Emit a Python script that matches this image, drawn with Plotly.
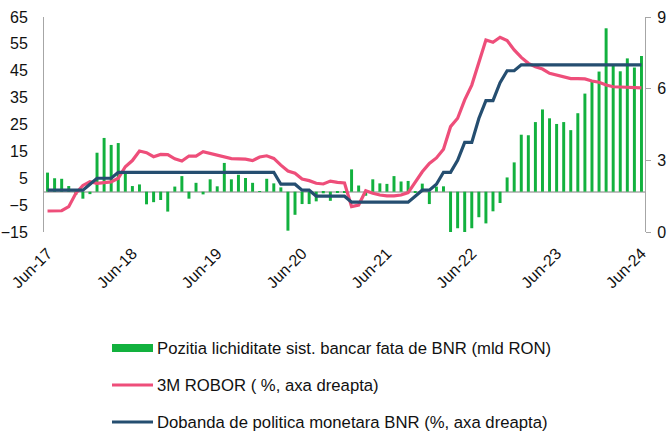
import pandas as pd
import plotly.graph_objects as go

# Categories: monthly, Jun-17 .. Jun-24
months = list(pd.date_range("2017-06-01", periods=85, freq="MS").strftime("%b-%y"))
tick_labels = ["Jun-17", "Jun-18", "Jun-19", "Jun-20", "Jun-21", "Jun-22", "Jun-23", "Jun-24"]

# Pozitia lichiditate sist. bancar fata de BNR (mld RON) - left axis
liquidity = [
    7.1, 5.0, 4.8, 2.1, -1.2, -2.6, -0.9, 14.5, 20.0, 17.4, 18.1, 7.0,
    2.1, 2.7, -4.7, -3.9, -3.1, -7.4, 1.9, 5.8, -2.6, 3.3, -1.0, 4.6,
    2.0, 10.7, 4.6, 6.3, 5.1, 3.3, 0.2, 4.8, 3.1, 1.6, -14.5, -8.6,
    -4.6, -4.6, -3.6, -0.6, -3.4, -0.5, -0.5, 8.3, 2.3, -1.5, 4.6, 3.1,
    2.9, 5.8, 3.8, 4.0, -0.5, 3.0, -4.6, 1.9, 2.0, -15.4, -13.6, -15.4,
    -13.6, -9.5, -11.8, -7.3, -4.2, 5.3, 10.9, 21.2, 21.0, 25.9, 30.6, 27.3,
    25.2, 25.9, 22.9, 29.2, 36.5, 40.9, 44.7, 60.8, 47.1, 44.8, 49.6, 46.2,
    50.5,
]

# 3M ROBOR (%, right axis)
robor = [
    0.88, 0.88, 0.89, 1.06, 1.62, 1.95, 2.11, 2.04, 2.08, 2.10, 2.25, 2.73,
    2.99, 3.39, 3.32, 3.15, 3.25, 3.24, 3.06, 2.97, 3.18, 3.18, 3.36, 3.29,
    3.22, 3.14, 3.07, 3.06, 3.05, 2.99, 3.14, 3.19, 3.08, 2.80, 2.55, 2.46,
    2.22, 2.15, 2.04, 2.01, 2.13, 2.08, 2.05, 1.06, 1.13, 1.73, 1.62, 1.55,
    1.51, 1.51, 1.55, 1.65, 2.11, 2.52, 2.87, 3.10, 3.46, 4.41, 4.76, 5.53,
    6.15, 7.06, 8.04, 7.94, 8.15, 8.01, 7.62, 7.31, 7.06, 6.92, 6.82, 6.64,
    6.57, 6.50, 6.42, 6.42, 6.41, 6.32, 6.27, 6.15, 6.08, 6.07, 6.06, 6.05,
    6.03,
]

# Dobanda de politica monetara BNR (%, right axis)
policy = [
    1.75, 1.75, 1.75, 1.75, 1.75, 1.75, 2.00, 2.25, 2.25, 2.25, 2.50, 2.50,
    2.50, 2.50, 2.50, 2.50, 2.50, 2.50, 2.50, 2.50, 2.50, 2.50, 2.50, 2.50,
    2.50, 2.50, 2.50, 2.50, 2.50, 2.50, 2.50, 2.50, 2.50, 2.00, 2.00, 2.00,
    1.75, 1.75, 1.50, 1.50, 1.50, 1.50, 1.50, 1.25, 1.25, 1.25, 1.25, 1.25,
    1.25, 1.25, 1.25, 1.25, 1.50, 1.75, 1.75, 2.00, 2.50, 2.50, 3.00, 3.75,
    3.75, 4.75, 5.50, 5.50, 6.25, 6.75, 6.75, 7.00, 7.00, 7.00, 7.00, 7.00,
    7.00, 7.00, 7.00, 7.00, 7.00, 7.00, 7.00, 7.00, 7.00, 7.00, 7.00, 7.00,
    7.00,
]

series_names = [
    "Pozitia lichiditate sist. bancar fata de BNR (mld RON)",
    "3M ROBOR ( %, axa dreapta)",
    "Dobanda de politica monetara BNR (%, axa dreapta)",
]

GREEN = "#12B13E"
PINK = "#EE4E7A"
NAVY = "#254E70"
AXIS_GRAY = "#A6A6A6"
FONT = "Liberation Sans, Arial, sans-serif"
FS = 16
LEG_FS = 16.7

fig = go.Figure()
fig.add_trace(go.Bar(x=months, y=liquidity, marker_color=GREEN, marker_line_width=0,
                     name=series_names[0], showlegend=False, yaxis="y"))
fig.add_trace(go.Scatter(x=months, y=robor, mode="lines", line=dict(color=PINK, width=3.2),
                         name=series_names[1], showlegend=False, yaxis="y2"))
fig.add_trace(go.Scatter(x=months, y=policy, mode="lines", line=dict(color=NAVY, width=3.2),
                         name=series_names[2], showlegend=False, yaxis="y2"))

L, R, T, B = 44, 23, 17, 203
W, H = 668, 435
pw, ph = W - L - R, H - T - B


def px_x(px):
    return (px - L) / pw


def px_y(py):
    return (H - B - py) / ph


# Manual legend (symbols + text)
legend_rows = [348, 385, 422]
shapes = []
annotations = []
for i, (yy, name) in enumerate(zip(legend_rows, series_names)):
    if i == 0:
        shapes.append(dict(type="rect", xref="paper", yref="paper",
                           x0=px_x(112), x1=px_x(153), y0=px_y(yy + 4), y1=px_y(yy - 4),
                           fillcolor=GREEN, line=dict(width=0)))
    else:
        shapes.append(dict(type="line", xref="paper", yref="paper",
                           x0=px_x(112), x1=px_x(153), y0=px_y(yy), y1=px_y(yy),
                           line=dict(color=PINK if i == 1 else NAVY, width=3)))
    annotations.append(dict(xref="paper", yref="paper", x=px_x(155), y=px_y(yy),
                            xanchor="left", yanchor="middle", text=name, showarrow=False,
                            font=dict(size=LEG_FS, color="#111111", family=FONT)))

fig.update_layout(
    width=W, height=H,
    margin=dict(l=L, r=R, t=T, b=B, autoexpand=False),
    paper_bgcolor="white", plot_bgcolor="white",
    font=dict(family=FONT, size=FS, color="#111111"),
    bargap=0.58,
    showlegend=False,
    shapes=shapes,
    annotations=annotations,
    xaxis=dict(
        type="category", automargin=False,
        tickmode="array", tickvals=tick_labels, ticktext=tick_labels,
        tickangle=-45, showgrid=False, showline=False, zeroline=False,
        ticks="", ticklabelstandoff=8,
        tickfont=dict(size=FS),
        range=[-0.5, 84.5],
    ),
    yaxis=dict(
        range=[-15, 65], tickmode="array", automargin=False,
        tickvals=[-15, -5, 5, 15, 25, 35, 45, 55, 65],
        showgrid=False, showline=True, linecolor=AXIS_GRAY, linewidth=1,
        zeroline=True, zerolinecolor="#BFBFBF", zerolinewidth=2,
        ticks="", ticklabelstandoff=12,
        tickfont=dict(size=FS),
    ),
    yaxis2=dict(
        range=[0, 9], tickmode="array", tickvals=[0, 3, 6, 9], automargin=False,
        overlaying="y", side="right",
        showgrid=False, showline=True, linecolor=AXIS_GRAY, linewidth=1,
        zeroline=False, ticks="outside", ticklen=5, tickcolor=AXIS_GRAY,
        ticklabelstandoff=3,
        tickfont=dict(size=FS),
    ),
)

fig.write_html(
    "out.html",
    config={"displayModeBar": False},
    post_script="document.body.style.margin='0';document.body.style.overflow='hidden';",
)
